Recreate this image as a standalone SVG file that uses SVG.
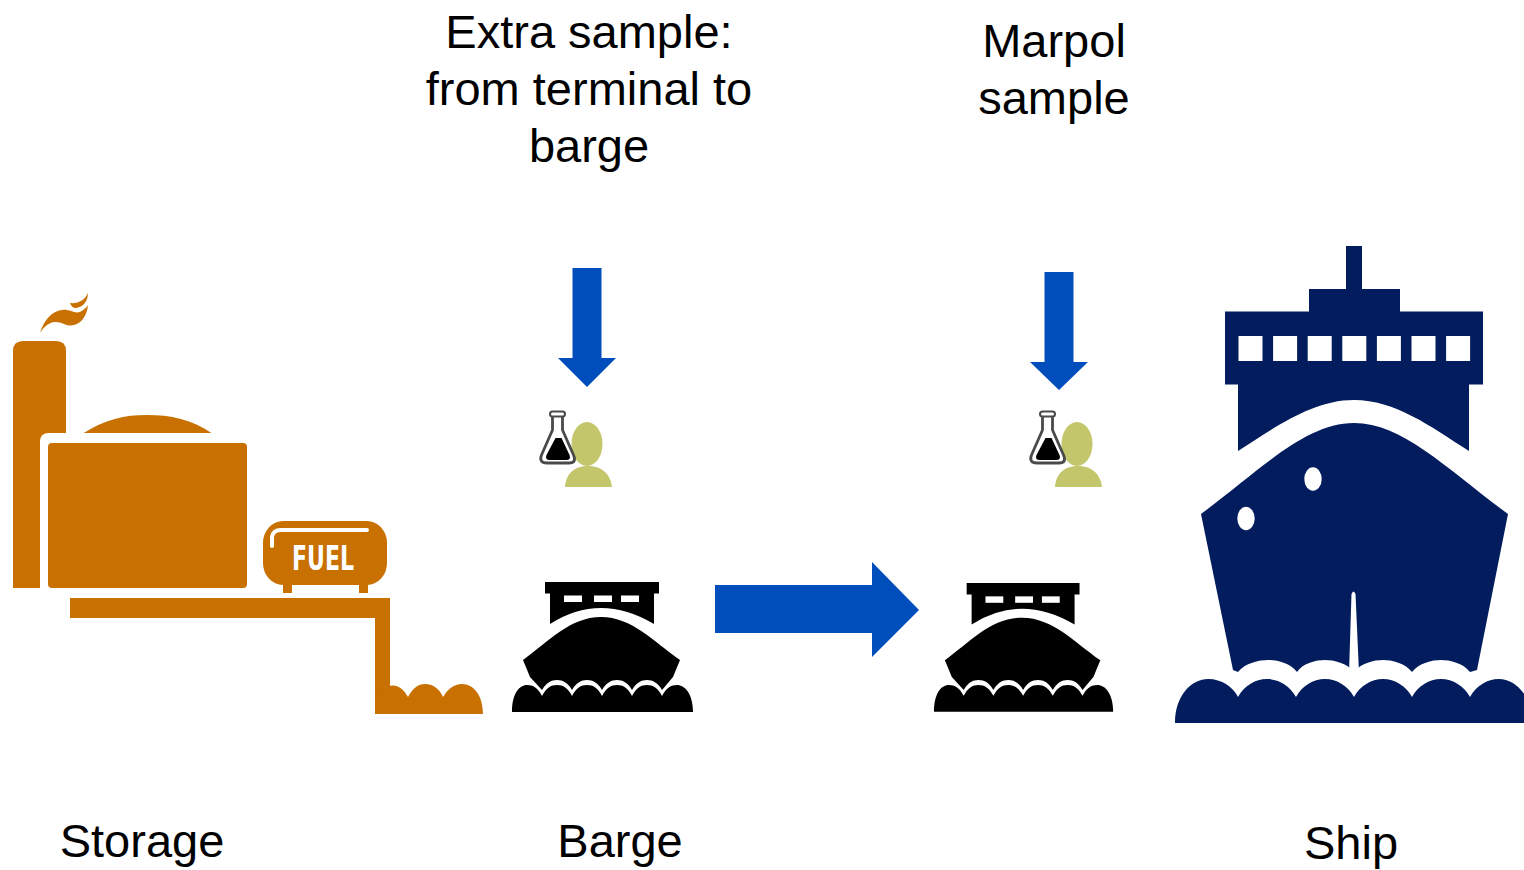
<svg xmlns="http://www.w3.org/2000/svg" xmlns:xlink="http://www.w3.org/1999/xlink" width="1524" height="870" viewBox="0 0 1524 870">
  <style>
    .label { font-family: "Liberation Sans", Arial, sans-serif; font-size: 47px; fill: #000; text-anchor: middle; }
    .orange { fill: #C87000; }
    .navy { fill: #021C5E; }
    .blue { fill: #004EBC; }
    .hole { fill: #FFFFFF; }
    .person { fill: #C3C66A; }
  </style>
  <defs>
    <!-- barge pictogram, local origin at its top-left -->
    <g id="barge-shape" fill="#000">
      <path d="M33,0 H147 V11.5 H142 V42 Q88,10 38,42 V11.5 H33 Z"/>
      <rect class="hole" x="52" y="13.5" width="18" height="6.5"/>
      <rect class="hole" x="82" y="13.5" width="18" height="6.5"/>
      <rect class="hole" x="109" y="13.5" width="18" height="6.5"/>
      <path d="M11,78 C36,60 58,35 89,35 C120,35 142,60 168,78 L161,95 L150,108 C146,101 141,98 135,98 C129,98 124,101 120,108 C116,101 111,98 105,98 C99,98 94,101 90,108 C86,101 81,98 75,98 C69,98 64,101 60,108 C56,101 51,98 45,98 C39,98 34,101 30,108 L18,95 Z"/>
      <path d="M0,130 C0,112 7,103 15,103 C21,103 26,106 30,114 C34,106 39,103 45,103 C51,103 56,106 60,114 C64,106 69,103 75,103 C81,103 86,106 90,114 C94,106 99,103 105,103 C111,103 116,106 120,114 C124,106 129,103 135,103 C141,103 146,106 150,114 C154,106 159,103 165,103 C173,103 181,112 181,130 Z"/>
    </g>
    <!-- sampler pictogram: flask and person -->
    <g id="sampler-shape">
      <ellipse class="person" cx="587" cy="444" rx="15.5" ry="22"/>
      <path class="person" d="M565,487 C566,472 576,466 588,466 C600,466 610,472 612,487 Z"/>
      <path d="M552.5,416 L552.5,430 L541.5,455 Q538.5,463 547,463 L569,463 Q577,463 573.5,455 L562.5,430 L562.5,416" fill="#FFFFFF" stroke="#4A4A4A" stroke-width="2.8" stroke-linejoin="round"/>
      <rect x="550" y="411.5" width="15" height="5" rx="2.5" fill="#FFFFFF" stroke="#4A4A4A" stroke-width="2"/>
      <path d="M555.5,438 L561.5,438 L569.5,455 Q571.5,460 566,460 L550,460 Q544.5,460 546.5,455 Z" fill="#000"/>
    </g>
  </defs>

  <!-- storage terminal -->
  <g id="storage">
    <path class="orange" d="M40,333 C44,320 52,311 62,310 C70,309 74,314 80,312 C84,310 87,307 88,305 C87,315 82,323 74,325 C66,327 62,321 54,322 C48,323 43,328 40,333 Z"/>
    <path class="orange" d="M70,303 C78,304 85,300 88,293 C88,300 84,307 76,308 C73,308 71,306 70,303 Z"/>
    <path class="orange" d="M13,351 Q13,341 23,341 L56,341 Q66,341 66,351 L66,588 L13,588 Z"/>
    <path class="orange" d="M82,434 C105,419 125,415 147,415 C170,415 192,419 213,434 Z"/>
    <rect x="40" y="433" width="220" height="165" rx="8" fill="#FFFFFF"/>
    <rect class="orange" x="48" y="443" width="199" height="145" rx="4"/>
    <rect class="orange" x="263" y="521" width="124" height="64" rx="20" ry="22"/>
    <rect class="orange" x="283" y="583" width="9" height="10"/>
    <rect class="orange" x="359" y="583" width="9" height="10"/>
    <path d="M272,546 L272,537 Q273,530 281,530 L367,530" fill="none" stroke="#FFFFFF" stroke-width="4" stroke-linecap="round"/>
    <text x="323" y="570" text-anchor="middle" textLength="62" lengthAdjust="spacingAndGlyphs" font-family="'DejaVu Sans Condensed', 'DejaVu Sans', sans-serif" font-weight="bold" font-size="34" fill="#FFFFFF">FUEL</text>
    <rect class="orange" x="70" y="598" width="320" height="20"/>
    <rect class="orange" x="375" y="598" width="15" height="116"/>
    <path class="orange" d="M375,714 L375,690 L390,686 C398,684 404,690 408,697 C413,688 418,684 425,684 C434,684 440,690 443,697 C448,689 454,684 462,684 C474,684 483,696 483,714 Z"/>
    <text class="label" x="142" y="857">Storage</text>
  </g>

  <!-- barge before transfer -->
  <g id="barge">
    <use xlink:href="#barge-shape" transform="translate(512,582)"/>
    <text class="label" x="620" y="857">Barge</text>
  </g>

  <!-- barge at the ship -->
  <g id="barge-at-ship">
    <use xlink:href="#barge-shape" transform="translate(934,583) scale(0.99)"/>
  </g>

  <!-- sampling points -->
  <g id="extra-sample">
    <text class="label" x="589" y="48">Extra sample:</text>
    <text class="label" x="589" y="105">from terminal to</text>
    <text class="label" x="589" y="162">barge</text>
    <use xlink:href="#sampler-shape"/>
  </g>
  <g id="marpol-sample">
    <text class="label" x="1054" y="57">Marpol</text>
    <text class="label" x="1054" y="114">sample</text>
    <use xlink:href="#sampler-shape" transform="translate(490,0)"/>
  </g>

  <!-- receiving ship -->
  <g id="ship">
    <rect class="navy" x="1346" y="246" width="16" height="44"/>
    <rect class="navy" x="1309" y="289" width="91" height="23"/>
    <rect class="navy" x="1225" y="311.5" width="258" height="73"/>
    <g class="hole">
      <rect x="1238.5" y="336" width="24" height="25"/>
      <rect x="1273.1" y="336" width="24" height="25"/>
      <rect x="1307.7" y="336" width="24" height="25"/>
      <rect x="1342.3" y="336" width="24" height="25"/>
      <rect x="1376.9" y="336" width="24" height="25"/>
      <rect x="1411.5" y="336" width="24" height="25"/>
      <rect x="1446.1" y="336" width="24" height="25"/>
    </g>
    <path class="navy" d="M1238,384 H1469 V451 C1430,426 1395,400 1354,400 C1313,400 1277,426 1238,451 Z"/>
    <path class="navy" d="M1201,514 C1260,470 1305,423 1354,423 C1403,423 1448,470 1508,514 L1477,670 L1470,672 C1463,663 1450,660 1441,660 C1432,660 1419,663 1412,672 C1405,663 1392,660 1383,660 C1374,660 1361,663 1354,672 C1347,663 1334,660 1325,660 C1316,660 1303,663 1297,672 C1290,663 1277,660 1268,660 C1259,660 1245,663 1238,672 L1233,670 Z"/>
    <path class="hole" d="M1351.5,594 Q1353.5,589 1355.5,594 L1359,673 L1349,673 Z"/>
    <ellipse class="hole" cx="1313" cy="479" rx="8.7" ry="11.8"/>
    <ellipse class="hole" cx="1246" cy="518.5" rx="8.7" ry="11.7"/>
    <path class="navy" d="M1175,723 C1175,695 1192,679 1208,679 C1222,679 1233,687 1238,697 C1244,686 1255,679 1267,679 C1279,679 1290,686 1296,697 C1302,686 1313,679 1325,679 C1337,679 1348,686 1354,697 C1360,686 1371,679 1383,679 C1395,679 1406,686 1412,697 C1418,686 1429,679 1441,679 C1453,679 1464,686 1470,697 C1476,686 1487,679 1499,679 C1515,679 1532,695 1532,723 Z"/>
    <text class="label" x="1351" y="859">Ship</text>
  </g>

  <!-- flow arrows -->
  <g id="connectors">
    <path class="blue" d="M572.5,268 H601.5 V358 H616 L587,387 L558,358 H572.5 Z"/>
    <path class="blue" d="M1044.5,272 H1073.5 V362 H1088 L1059,390 L1030,362 H1044.5 Z"/>
    <path class="blue" d="M715,585 H872 V562 L919,610 L872,657 V633 H715 Z"/>
  </g>
</svg>
